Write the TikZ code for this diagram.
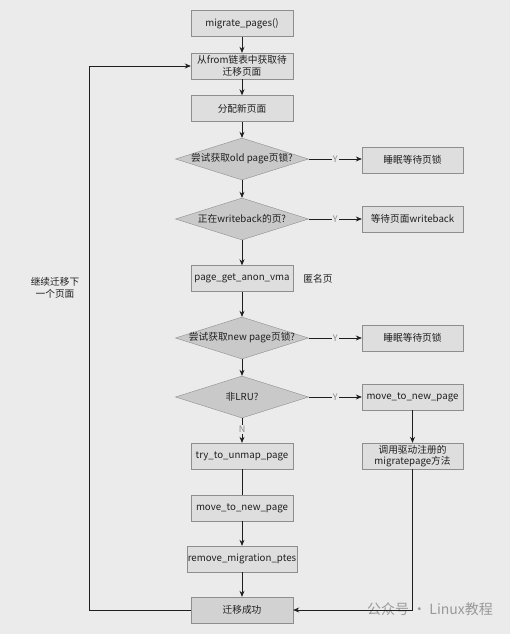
\documentclass[tikz,border=0pt]{standalone}
\usepackage{fontspec}
\setmainfont{Noto Sans CJK SC}
\usetikzlibrary{shapes.geometric,arrows.meta}
\definecolor{bg}{HTML}{EBEBEB}
\definecolor{boxfill}{HTML}{DEDEDE}
\definecolor{boxline}{HTML}{8E8E8E}
\definecolor{diafill}{HTML}{C9C9C9}
\definecolor{endfill}{HTML}{D2D2D2}
\definecolor{edge}{HTML}{1E1E1E}
\definecolor{lbl}{HTML}{8A8A8A}
\tikzset{
  txt/.style={font=\fontsize{9.7}{11.5}\selectfont, text=black!88},
  box/.style={txt, draw=boxline, fill=boxfill, minimum width=102pt, minimum height=26pt, inner sep=1pt, align=center},
  dia/.style={diamond, draw=boxline, fill=diafill, minimum width=133pt, minimum height=42pt, inner sep=0pt},
  arr/.style={draw=edge, line width=0.7pt, -{Stealth[length=6pt,width=5pt]}},
  ln/.style={draw=edge, line width=0.7pt},
  ylab/.style={font=\fontsize{9}{10}\selectfont, text=lbl, fill=bg, inner sep=1pt}
}
\begin{document}
\begin{tikzpicture}[x=1pt,y=-1pt]
\fill[bg] (0,0) rectangle (510,634);
\useasboundingbox (0,0) rectangle (510,634);

\node[box] (n1) at (242,23.5) {migrate\_pages()};
\node[box] (n2) at (242,66) {从from链表中获取待\\迁移页面};
\node[box] (n3) at (242,108.5) {分配新页面};
\node[dia, label={[txt]center:尝试获取old page页锁?}] (d1) at (242,159) {};
\node[box, minimum width=101pt] (r1) at (412.5,160) {睡眠等待页锁};
\node[dia, label={[txt]center:正在writeback的页?}] (d2) at (242,219) {};
\node[box, minimum width=101pt] (r2) at (412.5,219) {等待页面writeback};
\node[box] (n4) at (242,278.5) {page\_get\_anon\_vma};
\node[txt] (anon) at (318,279) {匿名页};
\node[dia, label={[txt]center:尝试获取new page页锁?}] (d3) at (242,338) {};
\node[box, minimum width=101pt] (r3) at (412.5,338) {睡眠等待页锁};
\node[dia, label={[txt]center:非LRU?}] (d4) at (242,397) {};
\node[box, minimum width=101pt] (r4) at (412.5,397) {move\_to\_new\_page};
\node[box, minimum width=101pt] (r5) at (412.5,456) {调用驱动注册的\\migratepage方法};
\node[box] (n5) at (242,456) {try\_to\_unmap\_page};
\node[box] (n6) at (242,508) {move\_to\_new\_page};
\node[box] (n7) at (242,559) {remove\_migration\_ptes};
\node[box, fill=endfill] (n8) at (242,610) {迁移成功};
\node[txt, align=center] (loopl) at (55,288) {继续迁移下\\一个页面};
\node[font=\fontsize{14}{15}\selectfont, text=black!40] (wm) at (430,609) {公众号 · Linux教程};

\coordinate (c1) at (89,610);
\coordinate (c2) at (89,66);
\coordinate (c3) at (412.5,610);

\draw[arr] (n1) -- (n2);
\draw[arr] (n2) -- (n3);
\draw[arr] (n3) -- (d1);
\draw[arr] (d1) -- (d2);
\draw[arr] (d2) -- (n4);
\draw[arr] (n4) -- (d3);
\draw[arr] (d3) -- (d4);
\draw[arr] (d4) -- node[ylab, pos=0.45] {N} (n5);
\draw[ln] (n5) -- (n6);
\draw[arr] (n6) -- (n7);
\draw[arr] (n7) -- (n8);
\draw[arr] (d1.east) -- node[ylab] {Y} (d1.east -| r1.west);
\draw[arr] (d2.east) -- node[ylab] {Y} (r2.west);
\draw[arr] (d3.east) -- node[ylab] {Y} (r3.west);
\draw[arr] (d4.east) -- node[ylab] {Y} (r4.west);
\draw[arr] (r4) -- (r5);
\draw[arr] (r5.south) -- (c3) -- (n8.east);
\draw[arr] (n8.west) -- (c1) -- (c2) -- (n2.west);
\end{tikzpicture}
\end{document}
